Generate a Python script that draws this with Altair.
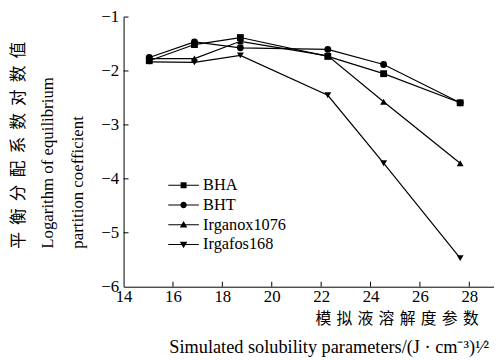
import altair as alt
import pandas as pd

# ---- data ----
x_vals = [15.04, 16.87, 18.73, 22.27, 24.53, 27.63]
series_names = ["BHA", "BHT", "Irganox1076", "Irgafos168"]
bha = [-1.81, -1.51, -1.38, -1.73, -2.05, -2.59]
bht = [-1.75, -1.46, -1.57, -1.60, -1.88, -2.59]
irganox = [-1.77, -1.77, -1.45, -1.72, -2.57, -3.71]
irgafos = [-1.83, -1.84, -1.71, -2.45, -3.71, -5.47]
x_ticks = [14, 16, 18, 20, 22, 24, 26, 28]
y_ticks = [-6, -5, -4, -3, -2, -1]

rows = []
for name, vals in zip(series_names, [bha, bht, irganox, irgafos]):
    for xv, yv in zip(x_vals, vals):
        rows.append({"series": name, "x": xv, "y": yv})
df = pd.DataFrame(rows)
xt_df = pd.DataFrame({"x": x_ticks[1:]})
yt_df = pd.DataFrame({"y": y_ticks[1:]})

W, H = 375, 273
FONT = "'Liberation Serif', 'Noto Sans CJK SC', serif"

xs = alt.Scale(domain=[14, 29], nice=False, zero=False)
ys = alt.Scale(domain=[-6, -1], nice=False, zero=False)

x_axis = alt.Axis(
    values=x_ticks, ticks=False, grid=False, domainColor="black", domainWidth=1,
    labelFont=FONT, labelFontSize=17, labelColor="black", labelPadding=2,
    labelFlush=False, labelOverlap=False,
    title="模\u2004拟\u2004液\u2004溶\u2004解\u2004度\u2004参\u2004数",
    titleFont=FONT, titleFontSize=16, titleFontWeight="normal", titleColor="black",
    titleAlign="right", titleBaseline="top", titleX=359, titleY=24,
)
y_axis = alt.Axis(
    values=y_ticks, ticks=False, grid=False, domainColor="black", domainWidth=1,
    labelFont=FONT, labelFontSize=17, labelColor="black", labelPadding=5,
    labelFlush=False, labelOverlap=False,
    title=["平\u2004\u200a衡\u2004\u200a分\u2004\u200a配\u2004\u200a系\u2004\u200a数\u2004\u200a对\u2004\u200a数\u2004\u200a值",
           "Logarithm of equilibrium", "partition coefficient"],
    titleFont=FONT, titleFontSize=17, titleFontWeight="normal", titleColor="black",
    titleAngle=270, titleAlign="left", titleBaseline="top", titleX=-114, titleY=234,
    titleLineHeight=29.5,
)

x_enc = alt.X("x:Q", scale=xs, axis=x_axis)
y_enc = alt.Y("y:Q", scale=ys, axis=y_axis)

shape_std = alt.Scale(domain=series_names,
                      range=["square", "circle", "triangle-up", "triangle-down"])
BAR = "M-1,-0.12L5.2,-0.12L5.2,0.12L-1,0.12Z"
legend_paths = [
    BAR + "M1.5,-0.6L2.7,-0.6L2.7,0.6L1.5,0.6Z",
    BAR + "M1.45,0A0.65,0.65,0,1,1,2.75,0A0.65,0.65,0,1,1,1.45,0Z",
    BAR + "M2.1,-0.75L2.85,0.55L1.35,0.55Z",
    BAR + "M2.1,0.75L1.35,-0.55L2.85,-0.55Z",
]
shape_leg = alt.Scale(domain=series_names, range=legend_paths)

base = alt.Chart(df)
lines = base.mark_line(color="black", strokeWidth=1.2).encode(
    x=x_enc, y=y_enc, detail="series:N")
points = base.mark_point(filled=True, color="black", opacity=1, size=48).encode(
    x=x_enc, y=y_enc, shape=alt.Shape("series:N", scale=shape_std, legend=None))
legend_layer = base.mark_point(filled=True, color="black").encode(
    x=x_enc, y=y_enc,
    opacity=alt.value(0),
    shape=alt.Shape("series:N", scale=shape_leg, sort=series_names, legend=alt.Legend(
        orient="none", legendX=42, legendY=162, title=None,
        labelFont=FONT, labelFontSize=16.5, labelColor="black",
        symbolSize=100, symbolFillColor="black", symbolOpacity=1, labelOffset=22,
        rowPadding=3, padding=0)))
xticks = alt.Chart(xt_df).mark_rule(color="black", strokeWidth=1).encode(
    x=x_enc, y=alt.value(H), y2=alt.value(H - 5))
yticks = alt.Chart(yt_df).mark_rule(color="black", strokeWidth=1).encode(
    y=y_enc, x=alt.value(0), x2=alt.value(5))

chart = alt.layer(lines, points, legend_layer, xticks, yticks).resolve_scale(
    shape="independent").properties(
    width=W, height=H,
    autosize=alt.AutoSizeParams(type="none"),
    padding={"left": 117, "top": 7, "right": 0, "bottom": 70},
    background="white",
    title=alt.TitleParams(
        text="Simulated solubility parameters/(J · cm⁻³)¹⁄²",
        orient="bottom", anchor="end", font=FONT, fontSize=18.5,
        fontWeight="normal", color="black", offset=12, dx=-5),
).configure_view(stroke=None)

chart.save("out.html", embed_options={"renderer": "svg", "actions": False})
